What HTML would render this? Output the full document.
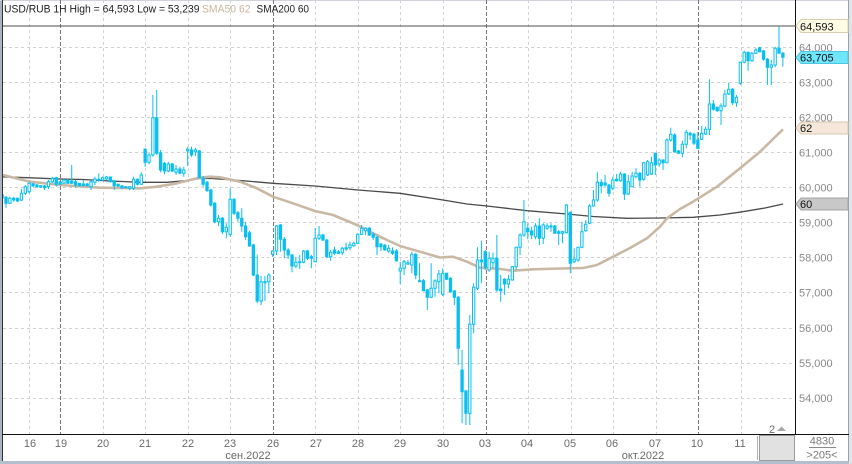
<!DOCTYPE html>
<html><head><meta charset="utf-8"><style>
html,body{margin:0;padding:0;background:#fff;width:852px;height:464px;overflow:hidden}
svg{display:block;font-family:"Liberation Sans",Arial,sans-serif}
.c rect,.c path{vector-effect:non-scaling-stroke}
.c rect{stroke:#0abef0;stroke-width:1}
.c .f{fill:#0abef0}
.c .h{fill:#fff}
.ax{font-size:11px;fill:#8a8a8a}
.dt{font-size:11px;fill:#6a6a6a;text-anchor:middle}
</style></head><body>
<svg width="852" height="464" viewBox="0 0 852 464" xmlns="http://www.w3.org/2000/svg">
<defs><clipPath id="pc"><rect x="3" y="0" width="792" height="434"/></clipPath></defs>
<rect x="0" y="0" width="852" height="464" fill="#fff"/>
<rect x="0" y="0" width="2" height="464" fill="#a9b5c5"/>
<rect x="0" y="461" width="852" height="3" fill="#b4bfcd"/>
<rect x="849" y="0" width="3" height="464" fill="#dfe4ea"/>
<line x1="0" y1="0.5" x2="849" y2="0.5" stroke="#d0d4da"/>
<line x1="848.5" y1="0" x2="848.5" y2="461" stroke="#a0a0a0"/>
<g clip-path="url(#pc)">
<g stroke="#d2d2d2" stroke-dasharray="3,3" stroke-width="1">
<line x1="3" x2="795" y1="47.5" y2="47.5"/><line x1="3" x2="795" y1="82.5" y2="82.5"/>
<line x1="3" x2="795" y1="117.5" y2="117.5"/><line x1="3" x2="795" y1="152.5" y2="152.5"/>
<line x1="3" x2="795" y1="187.5" y2="187.5"/><line x1="3" x2="795" y1="222.5" y2="222.5"/>
<line x1="3" x2="795" y1="257.5" y2="257.5"/><line x1="3" x2="795" y1="292.5" y2="292.5"/>
<line x1="3" x2="795" y1="328.5" y2="328.5"/><line x1="3" x2="795" y1="363.5" y2="363.5"/>
<line x1="3" x2="795" y1="398.5" y2="398.5"/>
<line y1="0" y2="434" x1="29.5" x2="29.5"/><line y1="0" y2="434" x1="103.5" x2="103.5"/>
<line y1="0" y2="434" x1="145.5" x2="145.5"/><line y1="0" y2="434" x1="188.5" x2="188.5"/>
<line y1="0" y2="434" x1="230.5" x2="230.5"/><line y1="0" y2="434" x1="315.5" x2="315.5"/>
<line y1="0" y2="434" x1="358.5" x2="358.5"/><line y1="0" y2="434" x1="400.5" x2="400.5"/>
<line y1="0" y2="434" x1="443.5" x2="443.5"/><line y1="0" y2="434" x1="528.5" x2="528.5"/>
<line y1="0" y2="434" x1="571.5" x2="571.5"/><line y1="0" y2="434" x1="613.5" x2="613.5"/>
<line y1="0" y2="434" x1="656.5" x2="656.5"/><line y1="0" y2="434" x1="741.5" x2="741.5"/>
</g>
<g stroke="#7a7a7a" stroke-dasharray="4,2" stroke-width="1">
<line y1="0" y2="434" x1="60.5" x2="60.5"/><line y1="0" y2="434" x1="273.5" x2="273.5"/>
<line y1="0" y2="434" x1="486.5" x2="486.5"/><line y1="0" y2="434" x1="698.5" x2="698.5"/>
</g>
<line x1="3" x2="795" y1="26" y2="26" stroke="#4d4d4d" stroke-width="1"/>
<polyline fill="none" stroke="#4a4a4a" stroke-width="1.3" points="3,176.8 30,177.8 60,179 83,179.5 110,181 140,182.3 167,182.3 187,180.5 200,178.5 210,178.3 240,180.5 273,183.3 315,186 358,190 400,193.3 443,200 467,204 487,206 527,210.7 567,214 593,216.5 627,218.3 660,218 693,217.3 720,215 743,211.7 765,208 783,204"/>
<polyline fill="none" stroke="#c9b9a4" stroke-width="2.6" stroke-linejoin="round" points="3,175 30,181.7 60,185 100,187.7 140,188.3 157,186.7 177,183.3 190,180 200,177.7 210,176.7 220,177.3 240,181.7 257,188.3 273,196.7 293,203.3 315,211 333,215 357,225 373,233.3 387,240 400,246 420,251.7 440,257.5 453,256.7 467,261.7 480,267.7 500,269 513,270.7 533,269.3 560,268.5 583,268 597,265 610,258.3 630,248 647,238.3 660,226.7 667,218.3 680,209 693,201.7 717,186.7 740,168.3 760,151.7 783,129.3"/>
<g class="c" transform="translate(6,0) scale(3.865,1)">
<path fill="none" stroke="#0abef0" stroke-width="1" d="M-1 194V199M0 196V207.7M1 197V204M2 196.7V201.7M3 197.5V202M4 189V201M5 185V195M6 181.7V193.3M7 183V187M8 184V188M9 185V188M10 185V190M11 180V189M12 176.7V183.3M13 176.7V186.7M14 181V185M15 179V184M16 179V184M17 165V184M18 180V187.7M19 183V186.5M20 180V186.7M21 183V186.5M22 180V190M23 176.7V185M24 173.3V181.7M25 176.5V181M26 176V180M27 176.5V182.5M28 180V190M29 183.5V187M30 185V189.3M31 186V188.5M32 186V190.3M33 176.7V190M34 178.5V185.5M35 172.3V185M36 148.3V166.7M37 153.3V164.3M38 95V156.7M39 90V155M40 150V172.3M41 162V174.3M42 161.7V172.3M43 163V172M44 165V175M45 166.7V174.3M46 166.7V176.7M47 146.7V166M48 146.7V156.7M49 147.7V156M50 150V178M51 176V186.7M52 181V192M53 189V206.7M54 202.3V223.3M55 215V226M56 217V234M57 223.3V238.3M58 188.3V236.7M59 198.3V215M60 211V221.7M61 208.3V231.7M62 221.7V240M63 231V246.7M64 244V276M65 255V303.3M66 276V305M67 276V300.7M68 273.3V293.3M69 250V257M70 225V255M71 224V251.7M72 237V258.3M73 248.3V259M74 254V272.3M75 256.7V268.3M76 255V269M77 250V263.3M78 250V260M79 255V268.3M80 228.3V262M81 226V240M82 234V241M83 239V258.3M84 250V260.7M85 246.7V255M86 250V254M87 247V255M88 242.7V251M89 241.7V250M90 241.7V246.7M91 233.3V244M92 225V235M93 227.3V235M94 227V236M95 231.7V240M96 236V255M97 243.3V251M98 244V250.7M99 245V252.7M100 247.3V255M101 249V261.7M102 261.7V284M103 260V275M104 260V265M105 251.7V273.3M106 253.3V279.3M107 263.3V282M108 279V291M109 289V310M110 263.3V298.3M111 279.3V296.7M112 270V293.3M113 268.3V296M114 272.7V280M115 277.3V292.7M116 290V305M117 296V365M118 350V423.3M119 390V425M120 315V425M121 283.3V333.3M122 247.3V290M123 240.7V283.3M124 250V270M125 251.7V271.7M126 252.7V268.3M127 235V291.7M128 275V301.7M129 278.3V295M130 275V288.3M131 266V280.7M132 246.7V270M133 233.3V255M134 200V236.7M135 223.3V239.3M136 226.7V239.3M137 223.3V239.3M138 218.3V245M139 223.3V244M140 223.3V230M141 223.3V231.7M142 225V234M143 230V245M144 230.7V243.3M145 204V233.3M146 211.7V273.3M147 248.3V263.3M148 246.7V261.7M149 221.7V248.3M150 220V231.7M151 204V224M152 190V206.7M153 172.3V201.7M154 179.3V193.3M155 175V186.7M156 184V196.7M157 176.7V190M158 174V181.7M159 171.7V181.7M160 173.3V200M161 175V195M162 171.7V187.3M163 168.3V178.3M164 171.7V186.7M165 161.7V180.7M166 160V176M167 156.7V175M168 152.7V175M169 158.3V166.7M170 159.3V170M171 138.3V163.3M172 127.7V141.7M173 133.3V152.7M174 150V154M175 140.7V157.3M176 130V148.3M177 131.7V140M178 132.7V145M179 132V149M180 126V140M181 126.7V135M182 79.3V135M183 100V110.7M184 106.7V111.7M185 103.3V125M186 90V107.3M187 82.7V95M188 88V105M189 95V106.7M190 61.7V85M191 50.7V63.3M192 51.7V70.7M193 51.7V61.7M194 48.3V54M195 46.7V52.3M196 50V60.7M197 58V85M198 60V85M199 46.7V67.3M200 26.7V53.5M201 52V66.7"/>
<rect class="f" x="-0.3" y="197.3" width="0.6" height="6"/>
<rect class="f" x="1.7" y="198.3" width="0.6" height="1.7"/>
<rect class="f" x="2.7" y="198.3" width="0.6" height="2.7"/>
<rect class="f" x="6.7" y="183.7" width="0.6" height="2"/>
<rect class="f" x="7.7" y="185" width="0.6" height="1.7"/>
<rect class="f" x="9.7" y="186" width="0.6" height="1.7"/>
<rect class="f" x="12.7" y="177.7" width="0.6" height="6.6"/>
<rect class="f" x="13.7" y="181.7" width="0.6" height="2.6"/>
<rect class="f" x="15.7" y="180" width="0.6" height="3.3"/>
<rect class="f" x="16.7" y="181" width="0.6" height="2.3"/>
<rect class="f" x="17.7" y="181.7" width="0.6" height="3.3"/>
<rect class="f" x="18.7" y="183.3" width="0.6" height="2.4"/>
<rect class="f" x="19.7" y="184" width="0.6" height="1.3"/>
<rect class="f" x="20.7" y="184" width="0.6" height="1.7"/>
<rect class="f" x="23.7" y="179.3" width="0.6" height="1"/>
<rect class="f" x="26.7" y="177" width="0.6" height="4.7"/>
<rect class="f" x="27.7" y="180.7" width="0.6" height="5"/>
<rect class="f" x="28.7" y="184.3" width="0.6" height="1.7"/>
<rect class="f" x="29.7" y="186" width="0.6" height="1.7"/>
<rect class="f" x="30.7" y="186.7" width="0.6" height="1"/>
<rect class="f" x="33.7" y="179.3" width="0.6" height="5"/>
<rect class="f" x="35.7" y="149.3" width="0.6" height="13"/>
<rect class="f" x="38.7" y="117.7" width="0.6" height="35.6"/>
<rect class="f" x="39.7" y="152.7" width="0.6" height="17.3"/>
<rect class="f" x="40.7" y="163.3" width="0.6" height="7.7"/>
<rect class="f" x="42.7" y="164" width="0.6" height="7"/>
<rect class="f" x="44.7" y="169" width="0.6" height="4.3"/>
<rect class="f" x="47.7" y="150" width="0.6" height="5"/>
<rect class="f" x="49.7" y="151" width="0.6" height="26.7"/>
<rect class="f" x="50.7" y="178.3" width="0.6" height="6"/>
<rect class="f" x="51.7" y="182.3" width="0.6" height="8.2"/>
<rect class="f" x="52.7" y="190" width="0.6" height="15"/>
<rect class="f" x="53.7" y="203.3" width="0.6" height="18.4"/>
<rect class="f" x="55.7" y="218.3" width="0.6" height="13.4"/>
<rect class="f" x="58.7" y="199.3" width="0.6" height="14"/>
<rect class="f" x="59.7" y="212.7" width="0.6" height="5.6"/>
<rect class="f" x="60.7" y="218.3" width="0.6" height="7.7"/>
<rect class="f" x="61.7" y="226" width="0.6" height="10.7"/>
<rect class="f" x="62.7" y="232.7" width="0.6" height="13.3"/>
<rect class="f" x="63.7" y="245" width="0.6" height="30"/>
<rect class="f" x="64.7" y="275" width="0.6" height="26"/>
<rect class="f" x="70.7" y="225" width="0.6" height="14.3"/>
<rect class="f" x="71.7" y="239.3" width="0.6" height="10.7"/>
<rect class="f" x="72.7" y="250" width="0.6" height="5"/>
<rect class="f" x="73.7" y="255" width="0.6" height="11"/>
<rect class="f" x="77.7" y="251" width="0.6" height="7.3"/>
<rect class="f" x="78.7" y="256.7" width="0.6" height="1.6"/>
<rect class="f" x="81.7" y="235" width="0.6" height="5"/>
<rect class="f" x="82.7" y="240" width="0.6" height="16.7"/>
<rect class="f" x="84.7" y="250" width="0.6" height="3.3"/>
<rect class="f" x="85.7" y="251.7" width="0.6" height="1.6"/>
<rect class="f" x="87.7" y="247.7" width="0.6" height="1.3"/>
<rect class="f" x="93.7" y="228.3" width="0.6" height="6.7"/>
<rect class="f" x="94.7" y="234.3" width="0.6" height="3"/>
<rect class="f" x="95.7" y="237.3" width="0.6" height="9.4"/>
<rect class="f" x="96.7" y="244" width="0.6" height="2.7"/>
<rect class="f" x="97.7" y="245.3" width="0.6" height="4.7"/>
<rect class="f" x="99.7" y="251" width="0.6" height="2.3"/>
<rect class="f" x="100.7" y="251" width="0.6" height="9.7"/>
<rect class="f" x="105.7" y="254.3" width="0.6" height="20.7"/>
<rect class="f" x="106.7" y="280.7" width="0.6" height="1"/>
<rect class="f" x="107.7" y="280.7" width="0.6" height="10"/>
<rect class="f" x="108.7" y="290" width="0.6" height="7.3"/>
<rect class="f" x="113.7" y="273.3" width="0.6" height="6"/>
<rect class="f" x="114.7" y="278.3" width="0.6" height="13.4"/>
<rect class="f" x="115.7" y="291" width="0.6" height="6.3"/>
<rect class="f" x="116.7" y="297.3" width="0.6" height="51"/>
<rect class="f" x="117.7" y="370" width="0.6" height="21.7"/>
<rect class="f" x="118.7" y="391" width="0.6" height="22.3"/>
<rect class="f" x="122.7" y="260" width="0.6" height="1.7"/>
<rect class="f" x="123.7" y="251.7" width="0.6" height="15.6"/>
<rect class="f" x="126.7" y="258.3" width="0.6" height="31.7"/>
<rect class="f" x="127.7" y="289" width="0.6" height="1.7"/>
<rect class="f" x="128.7" y="279.3" width="0.6" height="4.7"/>
<rect class="f" x="134.7" y="228.3" width="0.6" height="3.4"/>
<rect class="f" x="135.7" y="231" width="0.6" height="4"/>
<rect class="f" x="137.7" y="226" width="0.6" height="12.3"/>
<rect class="f" x="140.7" y="226" width="0.6" height="1"/>
<rect class="f" x="141.7" y="226" width="0.6" height="7.3"/>
<rect class="f" x="142.7" y="231.7" width="0.6" height="1.6"/>
<rect class="f" x="145.7" y="212.3" width="0.6" height="51"/>
<rect class="f" x="153.7" y="182.3" width="0.6" height="3.4"/>
<rect class="f" x="154.7" y="183" width="0.6" height="2"/>
<rect class="f" x="155.7" y="185" width="0.6" height="8.3"/>
<rect class="f" x="157.7" y="179.3" width="0.6" height="1.4"/>
<rect class="f" x="159.7" y="174" width="0.6" height="20"/>
<rect class="f" x="163.7" y="173.3" width="0.6" height="6.7"/>
<rect class="f" x="167.7" y="153.3" width="0.6" height="11.7"/>
<rect class="f" x="169.7" y="160" width="0.6" height="2.7"/>
<rect class="f" x="172.7" y="135" width="0.6" height="16.7"/>
<rect class="f" x="173.7" y="151" width="0.6" height="2.3"/>
<rect class="f" x="176.7" y="133.3" width="0.6" height="1.7"/>
<rect class="f" x="177.7" y="134.3" width="0.6" height="9"/>
<rect class="f" x="178.7" y="140" width="0.6" height="8.3"/>
<rect class="f" x="182.7" y="104" width="0.6" height="5.3"/>
<rect class="f" x="183.7" y="107.3" width="0.6" height="3.4"/>
<rect class="f" x="187.7" y="89.3" width="0.6" height="13.4"/>
<rect class="f" x="191.7" y="52.3" width="0.6" height="8.4"/>
<rect class="f" x="194.7" y="47.7" width="0.6" height="4"/>
<rect class="f" x="195.7" y="51" width="0.6" height="8.3"/>
<rect class="f" x="196.7" y="59.3" width="0.6" height="8"/>
<rect class="f" x="199.7" y="48.3" width="0.6" height="5"/>
<rect class="f" x="200.7" y="53.3" width="0.6" height="4"/>
<rect class="h" x="-1.3" y="195" width="0.6" height="3"/>
<rect class="h" x="0.7" y="198.3" width="0.6" height="5"/>
<rect class="h" x="3.7" y="193.3" width="0.6" height="6.7"/>
<rect class="h" x="4.7" y="186.7" width="0.6" height="6.6"/>
<rect class="h" x="5.7" y="183.3" width="0.6" height="8.4"/>
<rect class="h" x="8.7" y="185.7" width="0.6" height="1.3"/>
<rect class="h" x="10.7" y="181.7" width="0.6" height="5"/>
<rect class="h" x="11.7" y="178.3" width="0.6" height="3.4"/>
<rect class="h" x="14.7" y="180" width="0.6" height="3.3"/>
<rect class="h" x="21.7" y="181.7" width="0.6" height="5"/>
<rect class="h" x="22.7" y="179" width="0.6" height="3.3"/>
<rect class="h" x="24.7" y="177.7" width="0.6" height="2.3"/>
<rect class="h" x="25.7" y="177" width="0.6" height="2"/>
<rect class="h" x="31.7" y="186.7" width="0.6" height="1.6"/>
<rect class="h" x="32.7" y="179.3" width="0.6" height="9"/>
<rect class="h" x="34.7" y="175" width="0.6" height="9.3"/>
<rect class="h" x="36.7" y="155" width="0.6" height="7.3"/>
<rect class="h" x="37.7" y="117.7" width="0.6" height="37.3"/>
<rect class="h" x="41.7" y="164" width="0.6" height="7"/>
<rect class="h" x="43.7" y="169" width="0.6" height="3.3"/>
<rect class="h" x="45.7" y="170" width="0.6" height="3.3"/>
<rect class="h" x="46.7" y="149.3" width="0.6" height="1.4"/>
<rect class="h" x="48.7" y="150" width="0.6" height="1.7"/>
<rect class="h" x="54.7" y="218.3" width="0.6" height="3.4"/>
<rect class="h" x="56.7" y="227.3" width="0.6" height="4.4"/>
<rect class="h" x="57.7" y="199.3" width="0.6" height="35"/>
<rect class="h" x="65.7" y="281.7" width="0.6" height="19.3"/>
<rect class="h" x="66.7" y="281.7" width="0.6" height="1"/>
<rect class="h" x="67.7" y="275" width="0.6" height="6.7"/>
<rect class="h" x="68.7" y="251" width="0.6" height="3.3"/>
<rect class="h" x="69.7" y="226" width="0.6" height="25"/>
<rect class="h" x="74.7" y="262.3" width="0.6" height="3.7"/>
<rect class="h" x="75.7" y="261.7" width="0.6" height="1"/>
<rect class="h" x="76.7" y="251" width="0.6" height="11.3"/>
<rect class="h" x="79.7" y="238.3" width="0.6" height="23.4"/>
<rect class="h" x="80.7" y="235" width="0.6" height="3.3"/>
<rect class="h" x="83.7" y="252.3" width="0.6" height="4.4"/>
<rect class="h" x="86.7" y="248.3" width="0.6" height="4.4"/>
<rect class="h" x="88.7" y="245" width="0.6" height="2.7"/>
<rect class="h" x="89.7" y="243.3" width="0.6" height="2.4"/>
<rect class="h" x="90.7" y="234.3" width="0.6" height="9"/>
<rect class="h" x="91.7" y="228.3" width="0.6" height="6"/>
<rect class="h" x="92.7" y="228.3" width="0.6" height="2.4"/>
<rect class="h" x="98.7" y="248.3" width="0.6" height="2.7"/>
<rect class="h" x="101.7" y="268.3" width="0.6" height="2.7"/>
<rect class="h" x="102.7" y="261.7" width="0.6" height="6.6"/>
<rect class="h" x="103.7" y="262.7" width="0.6" height="1.3"/>
<rect class="h" x="104.7" y="254.3" width="0.6" height="10.7"/>
<rect class="h" x="109.7" y="288.3" width="0.6" height="9"/>
<rect class="h" x="110.7" y="280.7" width="0.6" height="7.6"/>
<rect class="h" x="111.7" y="274" width="0.6" height="7.7"/>
<rect class="h" x="112.7" y="273.3" width="0.6" height="21"/>
<rect class="h" x="119.7" y="324.3" width="0.6" height="89"/>
<rect class="h" x="120.7" y="287.3" width="0.6" height="37"/>
<rect class="h" x="121.7" y="260" width="0.6" height="28.3"/>
<rect class="h" x="124.7" y="258.3" width="0.6" height="11.7"/>
<rect class="h" x="125.7" y="258.3" width="0.6" height="4.4"/>
<rect class="h" x="129.7" y="279.3" width="0.6" height="4.7"/>
<rect class="h" x="130.7" y="266.7" width="0.6" height="13.3"/>
<rect class="h" x="131.7" y="247.3" width="0.6" height="19.4"/>
<rect class="h" x="132.7" y="235" width="0.6" height="12.3"/>
<rect class="h" x="133.7" y="221.7" width="0.6" height="13.3"/>
<rect class="h" x="136.7" y="226" width="0.6" height="10.7"/>
<rect class="h" x="138.7" y="225" width="0.6" height="13.3"/>
<rect class="h" x="139.7" y="226" width="0.6" height="2.3"/>
<rect class="h" x="143.7" y="231.7" width="0.6" height="1.6"/>
<rect class="h" x="144.7" y="205" width="0.6" height="27.7"/>
<rect class="h" x="146.7" y="259.3" width="0.6" height="2.4"/>
<rect class="h" x="147.7" y="247.3" width="0.6" height="12.7"/>
<rect class="h" x="148.7" y="231.7" width="0.6" height="15.6"/>
<rect class="h" x="149.7" y="224.3" width="0.6" height="6.4"/>
<rect class="h" x="150.7" y="206" width="0.6" height="17.3"/>
<rect class="h" x="151.7" y="200" width="0.6" height="6"/>
<rect class="h" x="152.7" y="182.3" width="0.6" height="17.7"/>
<rect class="h" x="156.7" y="180" width="0.6" height="8.3"/>
<rect class="h" x="158.7" y="174" width="0.6" height="6.7"/>
<rect class="h" x="160.7" y="181.7" width="0.6" height="12.3"/>
<rect class="h" x="161.7" y="176" width="0.6" height="10.7"/>
<rect class="h" x="162.7" y="173.3" width="0.6" height="3.4"/>
<rect class="h" x="164.7" y="162.7" width="0.6" height="16.6"/>
<rect class="h" x="165.7" y="161.7" width="0.6" height="13.3"/>
<rect class="h" x="166.7" y="162.7" width="0.6" height="11.3"/>
<rect class="h" x="168.7" y="160" width="0.6" height="4"/>
<rect class="h" x="170.7" y="140" width="0.6" height="22.7"/>
<rect class="h" x="171.7" y="134.3" width="0.6" height="5.7"/>
<rect class="h" x="174.7" y="144.3" width="0.6" height="9"/>
<rect class="h" x="175.7" y="132.3" width="0.6" height="12"/>
<rect class="h" x="179.7" y="133.3" width="0.6" height="6"/>
<rect class="h" x="180.7" y="129.3" width="0.6" height="4.7"/>
<rect class="h" x="181.7" y="104" width="0.6" height="25.3"/>
<rect class="h" x="184.7" y="106" width="0.6" height="4.7"/>
<rect class="h" x="185.7" y="94" width="0.6" height="12"/>
<rect class="h" x="186.7" y="89.3" width="0.6" height="4.7"/>
<rect class="h" x="188.7" y="97.3" width="0.6" height="5.4"/>
<rect class="h" x="189.7" y="62.3" width="0.6" height="21"/>
<rect class="h" x="190.7" y="52.3" width="0.6" height="10"/>
<rect class="h" x="192.7" y="53.3" width="0.6" height="7.4"/>
<rect class="h" x="193.7" y="50" width="0.6" height="3.3"/>
<rect class="h" x="197.7" y="65" width="0.6" height="2.3"/>
<rect class="h" x="198.7" y="48.3" width="0.6" height="16.7"/>
</g>
<text x="4" y="12.5" font-size="11" fill="#1e1e1e" textLength="195.5" lengthAdjust="spacingAndGlyphs">USD/RUB 1H High = 64,593 Low = 53,239</text>
<text x="202" y="12.5" font-size="11" fill="#c9b69c" textLength="48.5" lengthAdjust="spacingAndGlyphs">SMA50 62</text>
<text x="256.5" y="12.5" font-size="11" fill="#1e1e1e" textLength="52.5" lengthAdjust="spacingAndGlyphs">SMA200 60</text>
<text x="769" y="433" font-size="11" fill="#6a6a6a">2</text>
<polygon points="777,431 781.5,426.5 786,431" fill="#a8a8a8"/>
</g>
<line x1="2.5" y1="0" x2="2.5" y2="461" stroke="#333"/>
<line x1="795.5" y1="0" x2="795.5" y2="435" stroke="#111"/>
<line x1="2" y1="434.5" x2="849" y2="434.5" stroke="#111"/>
<g class="ax">
<text x="799" y="51.5">64,000</text>
<text x="799" y="86.5">63,000</text>
<text x="799" y="121.5">62,000</text>
<text x="799" y="156.5">61,000</text>
<text x="799" y="191.5">60,000</text>
<text x="799" y="226.5">59,000</text>
<text x="799" y="261.5">58,000</text>
<text x="799" y="296.5">57,000</text>
<text x="799" y="332">56,000</text>
<text x="799" y="367">55,000</text>
<text x="799" y="402">54,000</text>
</g>
<polygon points="796,26 801,19.5 848,19.5 848,32.5 801,32.5" fill="#fffce6" stroke="#d6cfae"/>
<text x="800" y="30.5" font-size="11" fill="#111">64,593</text>
<polygon points="796,57.5 801,51.5 848,51.5 848,63.5 801,63.5" fill="#6ee6fb" stroke="#52c6df"/>
<text x="800" y="61.5" font-size="11" fill="#111">63,705</text>
<polygon points="796,128 801,122 848,122 848,134 801,134" fill="#f5e8da" stroke="#d8c8b2"/>
<text x="800" y="132" font-size="11" fill="#111">62</text>
<polygon points="796,204 801,198 848,198 848,210 801,210" fill="#c8c8c8" stroke="#a4a4a4"/>
<text x="800" y="208" font-size="11" fill="#111">60</text>
<g class="dt">
<text x="30" y="447">16</text><text x="61" y="447">19</text>
<text x="103" y="447">20</text><text x="145" y="447">21</text>
<text x="188" y="447">22</text><text x="230" y="447">23</text>
<text x="273" y="447">26</text><text x="316" y="447">27</text>
<text x="358" y="447">28</text><text x="400" y="447">29</text>
<text x="443" y="447">30</text><text x="485" y="447">03</text>
<text x="527" y="447">04</text><text x="570" y="447">05</text>
<text x="612" y="447">06</text><text x="655" y="447">07</text>
<text x="697" y="447">10</text><text x="740" y="447">11</text>
<text x="248" y="459">сен.2022</text>
<text x="643" y="459">окт.2022</text>
</g>
<line x1="757.5" y1="436" x2="757.5" y2="460" stroke="#b0b0b0"/>
<rect x="759.5" y="435.5" width="35" height="25" fill="#e1e1e1" stroke="#9c9c9c"/>
<text x="822" y="444.5" font-size="11" fill="#7a7a7a" text-anchor="middle">4830</text>
<line x1="809" y1="447.5" x2="836" y2="447.5" stroke="#8a8a8a"/>
<text x="822" y="458.5" font-size="11" fill="#7a7a7a" text-anchor="middle">&gt;205&lt;</text>
</svg>
</body></html>
